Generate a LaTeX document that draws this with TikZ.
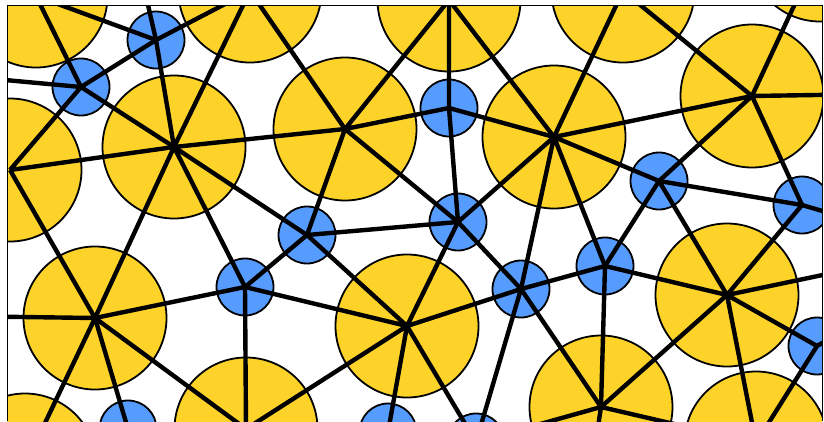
\documentclass[tikz,border=0pt]{standalone}
\usepackage{tikz}
\definecolor{discyellow}{RGB}{253,211,41}
\definecolor{discblue}{RGB}{86,156,255}

\begin{document}
\begin{tikzpicture}[x=1pt, y=-1pt,
    bigdisc/.style={circle, draw, line width=1.8pt, fill=discyellow, minimum size=143pt, inner sep=0pt},
    smalldisc/.style={circle, draw, line width=1.8pt, fill=discblue, minimum size=57pt, inner sep=0pt},
    edge/.style={line width=4.4pt}
]
\useasboundingbox (0,0) rectangle (824,421);
\begin{scope}
\clip (7,5) rectangle (822,421);
\node[bigdisc] (ya) at (36,-4) {};
\node[bigdisc] (yb) at (250,-9) {};
\node[bigdisc] (yc) at (449,0) {};
\node[bigdisc] (yd) at (623,-9) {};
\node[bigdisc] (ye) at (820,-50) {};
\node[bigdisc] (yf) at (752,96) {};
\node[bigdisc] (yg) at (554,137) {};
\node[bigdisc] (yh) at (345,129) {};
\node[bigdisc] (yi) at (174,147) {};
\node[bigdisc] (yj) at (10,170) {};
\node[bigdisc] (yk) at (95,318) {};
\node[bigdisc] (yl) at (407,326) {};
\node[bigdisc] (ym) at (727,295) {};
\node[bigdisc] (yn) at (246,429) {};
\node[bigdisc] (yo) at (25,465) {};
\node[bigdisc] (yp) at (601,407) {};
\node[bigdisc] (yq) at (756,443) {};
\node[smalldisc] (b1) at (81,87) {};
\node[smalldisc] (b2) at (156,40) {};
\node[smalldisc] (b3) at (449,108) {};
\node[smalldisc] (b4) at (659,181) {};
\node[smalldisc] (b5) at (802,205) {};
\node[smalldisc] (b6) at (307,235) {};
\node[smalldisc] (b7) at (458,222) {};
\node[smalldisc] (b8) at (245,287) {};
\node[smalldisc] (b9) at (521,289) {};
\node[smalldisc] (b10) at (605,266) {};
\node[smalldisc] (b11) at (817,346) {};
\node[smalldisc] (b12) at (128,429) {};
\node[smalldisc] (b13) at (388,432) {};
\node[smalldisc] (b14) at (476,442) {};
\coordinate (outl1) at (-60,74);
\coordinate (outl2) at (-50,316);
\coordinate (outt1) at (140,-30);
\coordinate (outr1) at (880,94);
\coordinate (outr2) at (870,225);
\coordinate (outr3) at (880,263);
\coordinate (outr4) at (880,310);
\coordinate (outb1) at (590,480);
\draw[edge] (ya.center) -- (b1.center) (ya.center) -- (b2.center);
\draw[edge] (b1.center) -- (b2.center) (b1.center) -- (yj.center) (b1.center) -- (yi.center) (b1.center) -- (outl1);
\draw[edge] (b2.center) -- (yb.center) (b2.center) -- (yi.center) (b2.center) -- (outt1);
\draw[edge] (yi.center) -- (yj.center) (yi.center) -- (yh.center) (yi.center) -- (yb.center);
\draw[edge] (yi.center) -- (b6.center) (yi.center) -- (yk.center) (yi.center) -- (b8.center);
\draw[edge] (yj.center) -- (yk.center);
\draw[edge] (yh.center) -- (b3.center) (yh.center) -- (yc.center) (yh.center) -- (yb.center);
\draw[edge] (yh.center) -- (b7.center) (yh.center) -- (b6.center);
\draw[edge] (b3.center) -- (yc.center) (b3.center) -- (yg.center) (b3.center) -- (b7.center);
\draw[edge] (yc.center) -- (yg.center);
\draw[edge] (yg.center) -- (b7.center) (yg.center) -- (yd.center) (yg.center) -- (yf.center);
\draw[edge] (yg.center) -- (b4.center) (yg.center) -- (b10.center) (yg.center) -- (b9.center);
\draw[edge] (yd.center) -- (yf.center) (ye.center) -- (yf.center);
\draw[edge] (yf.center) -- (outr1) (yf.center) -- (b4.center) (yf.center) -- (b5.center);
\draw[edge] (b4.center) -- (b5.center) (b4.center) -- (b10.center) (b4.center) -- (ym.center);
\draw[edge] (b5.center) -- (ym.center) (b5.center) -- (outr2);
\draw[edge] (ym.center) -- (b10.center) (ym.center) -- (yp.center) (ym.center) -- (outr3);
\draw[edge] (ym.center) -- (b11.center) (ym.center) -- (yq.center);
\draw[edge] (b10.center) -- (yp.center) (b10.center) -- (b9.center);
\draw[edge] (b11.center) -- (yq.center) (b11.center) -- (outr4);
\draw[edge] (b9.center) -- (b14.center) (b9.center) -- (yl.center) (b9.center) -- (b7.center) (b9.center) -- (yp.center);
\draw[edge] (yl.center) -- (b7.center) (yl.center) -- (b6.center) (yl.center) -- (b8.center);
\draw[edge] (yl.center) -- (yn.center) (yl.center) -- (b13.center) (yl.center) -- (b14.center);
\draw[edge] (b6.center) -- (b7.center) (b6.center) -- (b8.center);
\draw[edge] (b8.center) -- (yk.center) (b8.center) -- (yn.center);
\draw[edge] (yk.center) -- (outl2) (yk.center) -- (yo.center) (yk.center) -- (b12.center) (yk.center) -- (yn.center);
\draw[edge] (yp.center) -- (b14.center) (yp.center) -- (yq.center) (yp.center) -- (outb1);
\end{scope}
\draw[line width=1pt] (7,421) -- (7,5) -- (822,5) -- (822,421);
\end{tikzpicture}
\end{document}
